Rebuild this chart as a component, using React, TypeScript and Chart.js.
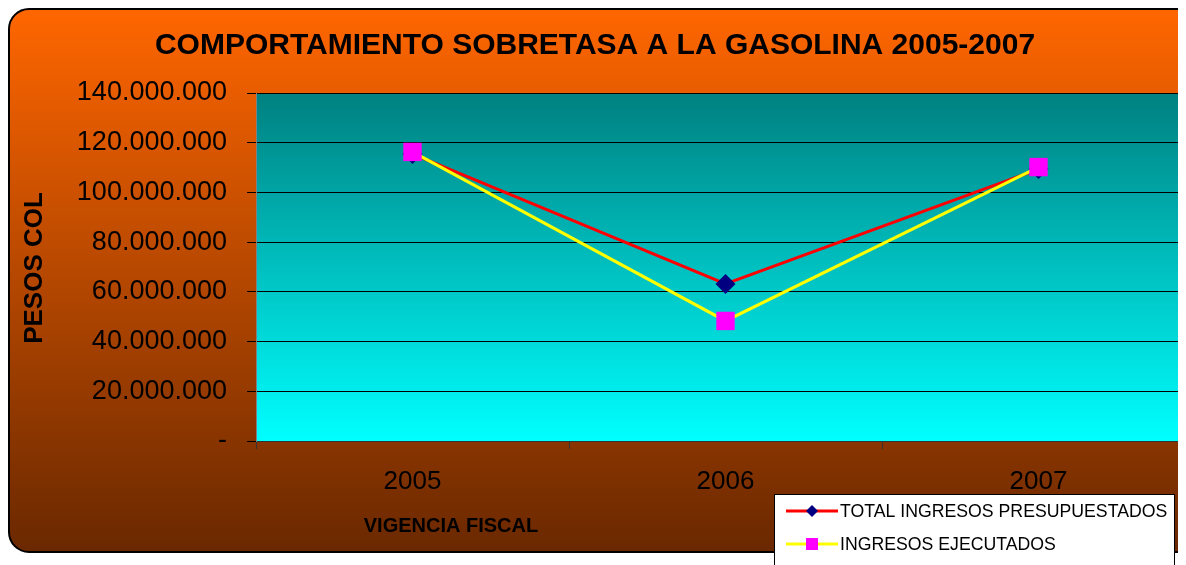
import React, { useEffect, useRef } from "react";
import { Chart, registerables } from "chart.js";

Chart.register(...registerables);

const categories = ["2005", "2006", "2007"];
const totalPresupuestados = [115500000, 63200000, 109400000];
const ingresosEjecutados = [116300000, 48300000, 110200000];
const yTickLabels = ["-", "20.000.000", "40.000.000", "60.000.000", "80.000.000", "100.000.000", "120.000.000", "140.000.000"];
const titleText = "COMPORTAMIENTO SOBRETASA A LA GASOLINA 2005-2007";
const yTitle = "PESOS COL";
const xTitle = "VIGENCIA FISCAL";
const legendLabels = ["TOTAL INGRESOS PRESUPUESTADOS", "INGRESOS EJECUTADOS"];

const W = 1200;
const H = 557;
const FONT = "Arial, 'Liberation Sans', sans-serif";

const decorPlugin = {
  id: "decor",
  beforeDraw(chart: any) {
    const ctx = chart.ctx;
    const ca = chart.chartArea;
    ctx.save();
    const r = 20;
    const x0 = 1, y0 = 1, x1 = W + 30, y1 = 544;
    const g = ctx.createLinearGradient(0, y0, 0, y1);
    g.addColorStop(0, "#FF6600");
    g.addColorStop(1, "#6A2800");
    ctx.beginPath();
    ctx.moveTo(x0 + r, y0);
    ctx.lineTo(x1 - r, y0);
    ctx.arcTo(x1, y0, x1, y0 + r, r);
    ctx.lineTo(x1, y1 - r);
    ctx.arcTo(x1, y1, x1 - r, y1, r);
    ctx.lineTo(x0 + r, y1);
    ctx.arcTo(x0, y1, x0, y1 - r, r);
    ctx.lineTo(x0, y0 + r);
    ctx.arcTo(x0, y0, x0 + r, y0, r);
    ctx.closePath();
    ctx.fillStyle = g;
    ctx.fill();
    ctx.lineWidth = 2;
    ctx.strokeStyle = "#000";
    ctx.stroke();
    const pg = ctx.createLinearGradient(0, ca.top, 0, ca.bottom);
    pg.addColorStop(0, "#008080");
    pg.addColorStop(1, "#00FFFF");
    ctx.fillStyle = pg;
    ctx.fillRect(ca.left, ca.top, ca.right - ca.left, ca.bottom - ca.top);
    ctx.strokeStyle = "#808080";
    ctx.lineWidth = 1;
    ctx.beginPath();
    ctx.moveTo(ca.left, ca.top + 0.5);
    ctx.lineTo(ca.right, ca.top + 0.5);
    ctx.stroke();
    ctx.fillStyle = "#000";
    ctx.textAlign = "center";
    ctx.textBaseline = "middle";
    ctx.font = `bold 30px ${FONT}`;
    ctx.fillText(titleText, 587, 38);
    ctx.font = `bold 20px ${FONT}`;
    ctx.fillText(xTitle, 443, 518);
    ctx.save();
    ctx.translate(27, 260);
    ctx.rotate(-Math.PI / 2);
    ctx.font = `bold 26px ${FONT}`;
    ctx.fillText(yTitle, 0, 0);
    ctx.restore();
    ctx.restore();
  },
  afterDraw(chart: any) {
    const ctx = chart.ctx;
    ctx.save();
    const lx = 766, ly = 486, lw = 400, lh = 72;
    ctx.fillStyle = "#FFFFFF";
    ctx.fillRect(lx, ly, lw, lh);
    ctx.strokeStyle = "#000";
    ctx.lineWidth = 1;
    ctx.strokeRect(lx + 0.5, ly + 0.5, lw, lh);
    const rows = [
      { y: 503, line: "#FF0000", marker: "diamond", mcolor: "#000080", text: legendLabels[0] },
      { y: 536, line: "#FFFF00", marker: "square", mcolor: "#FF00FF", text: legendLabels[1] },
    ];
    rows.forEach((row) => {
      ctx.strokeStyle = row.line;
      ctx.lineWidth = 3;
      ctx.beginPath();
      ctx.moveTo(778, row.y);
      ctx.lineTo(830, row.y);
      ctx.stroke();
      ctx.fillStyle = row.mcolor;
      if (row.marker === "diamond") {
        ctx.beginPath();
        ctx.moveTo(804, row.y - 6);
        ctx.lineTo(810, row.y);
        ctx.lineTo(804, row.y + 6);
        ctx.lineTo(798, row.y);
        ctx.closePath();
        ctx.fill();
      } else {
        ctx.fillRect(798, row.y - 6, 12, 12);
      }
      ctx.fillStyle = "#000";
      ctx.textAlign = "left";
      ctx.textBaseline = "middle";
      ctx.font = `17.7px ${FONT}`;
      ctx.fillText(row.text, 832, row.y + 1);
    });
    ctx.restore();
  },
};

export default function App() {
  const ref = useRef<HTMLCanvasElement>(null);
  useEffect(() => {
    if (!ref.current) return;
    const chart = new Chart(ref.current, {
      type: "line",
      data: {
        labels: categories,
        datasets: [
          {
            label: legendLabels[0],
            data: totalPresupuestados,
            borderColor: "#FF0000",
            backgroundColor: "#000080",
            borderWidth: 3,
            pointStyle: "rectRot",
            pointRadius: 10,
            pointBorderWidth: 0,
            pointBackgroundColor: "#000080",
            pointBorderColor: "#000080",
            order: 2,
            tension: 0,
          },
          {
            label: legendLabels[1],
            data: ingresosEjecutados,
            borderColor: "#FFFF00",
            backgroundColor: "#FF00FF",
            borderWidth: 3,
            pointStyle: "rect",
            pointRadius: 13,
            pointBorderWidth: 0,
            pointBackgroundColor: "#FF00FF",
            pointBorderColor: "#FF00FF",
            order: 1,
            tension: 0,
          },
        ],
      },
      options: {
        animation: false,
        responsive: false,
        events: [],
        layout: { padding: { left: 0, top: 85, right: 13, bottom: 0 } },
        plugins: { legend: { display: false }, tooltip: { enabled: false }, title: { display: false } },
        scales: {
          x: {
            type: "category",
            offset: true,
            afterFit: (s: any) => { s.height = H - 433; },
            grid: { offset: true, drawOnChartArea: false, drawTicks: true, tickLength: 8, color: "#333" },
            border: { display: true, color: "#333", width: 1 },
            ticks: { color: "#000", padding: 17, font: { family: FONT, size: 26 } },
          },
          y: {
            min: 0,
            max: 140000000,
            afterFit: (s: any) => { s.width = 248; },
            grid: { color: "#000", lineWidth: 1, tickLength: 9, drawTicks: true },
            border: { display: true, color: "#808080", width: 1 },
            ticks: {
              stepSize: 20000000,
              color: "#000",
              padding: 20,
              font: { family: FONT, size: 27 },
              callback: (_v: any, i: number) => yTickLabels[i],
            },
          },
        },
      },
      plugins: [decorPlugin],
    } as any);
    return () => chart.destroy();
  }, []);
  return (
    <div style={{ width: 1178, height: H, overflow: "hidden" }}>
      <canvas ref={ref} width={W} height={H} style={{ width: W, height: H, display: "block" }} />
    </div>
  );
}
